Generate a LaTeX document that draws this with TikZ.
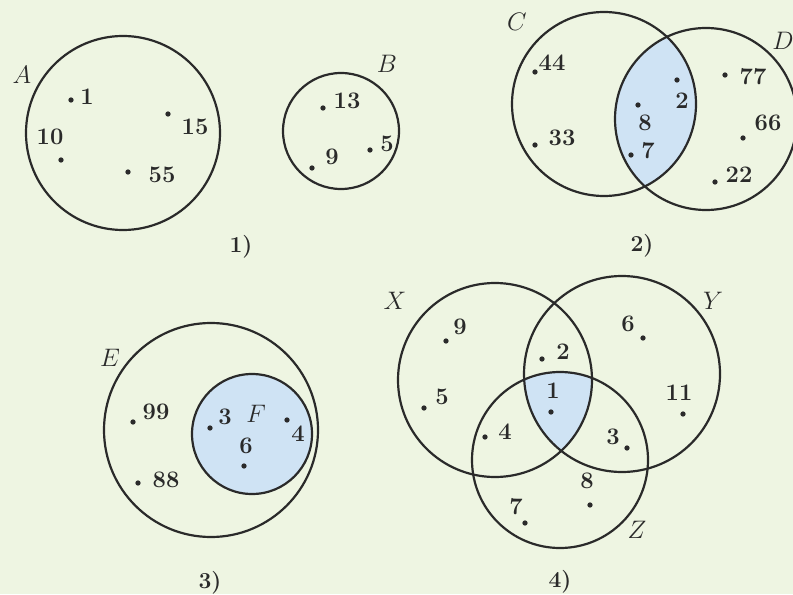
\documentclass[tikz,border=0pt]{standalone}
\usepackage{xcolor}

\definecolor{paper}{HTML}{EEF5E2}
\definecolor{lens}{HTML}{CFE3F4}
\definecolor{ink}{HTML}{2A2A2A}

\tikzset{
    setline/.style={draw=ink, line width=1.25pt},
    elem/.style={font=\fontsize{13.5}{15}\selectfont\bfseries, text=ink, inner sep=0pt},
    setname/.style={font=\fontsize{15}{17}\selectfont, text=ink, inner sep=0pt},
    caption/.style={font=\fontsize{13}{15}\selectfont\bfseries, text=ink, inner sep=0pt},
    pt/.style={circle, fill=ink, inner sep=0pt, minimum size=3pt},
}

\begin{document}
\begin{tikzpicture}[x=0.02cm, y=-0.02cm]
    % page (pixel coordinates, y downwards)
    \useasboundingbox (0,0) rectangle (793,594);
    \fill[paper] (0,0) rectangle (793,594);

    % 1) A and B
    \draw[setline] (123,133) circle (97);
    \draw[setline] (341,131) circle (58);
    \node[setname] (nA) at (22,75) {$A$};
    \node[setname] (nB) at (387,64) {$B$};
    \foreach \dx/\dy/\lx/\ly/\t in {71/100/87/97/1, 61/160/50/137/10, 168/114/195/127/15,
        128/172/162/175/55, 323/108/347/101/13, 312/168/332/157/9, 370/150/387/144/5}
        \node[pt] (p1-\t) at (\dx,\dy) {} node[elem] (l1-\t) at (\lx,\ly) {\t};
    \node[caption] (c1) at (241,247) {1)};

    % 2) C and D, common part shaded
    \begin{scope}
        \clip (604,104) circle (92);
        \fill[lens] (706,119) circle (91);
    \end{scope}
    \draw[setline] (604,104) circle (92);
    \draw[setline] (706,119) circle (91);
    \node[setname] (nC) at (517,22) {$C$};
    \node[setname] (nD) at (783,41) {$D$};
    \foreach \dx/\dy/\lx/\ly/\t in {535/72/552/63/44, 535/145/562/138/33, 638/105/645/123/8,
        677/80/682/101/2, 631/155/648/151/7, 725/75/753/77/77, 743/138/768/123/66, 715/182/739/175/22}
        \node[pt] (p2-\t) at (\dx,\dy) {} node[elem] (l2-\t) at (\lx,\ly) {\t};
    \node[caption] (c2) at (642,246) {2)};

    % 3) F inside E
    \fill[lens] (252,434) circle (60);
    \draw[setline] (211,430) circle (107);
    \draw[setline] (252,434) circle (60);
    \node[setname] (nE) at (110,358) {$E$};
    \node[setname] (nF) at (256,414) {$F$};
    \foreach \dx/\dy/\lx/\ly/\t in {133/422/156/412/99, 138/483/166/480/88, 210/428/225/417/3,
        244/466/246/446/6, 287/420/298/434/4}
        \node[pt] (p3-\t) at (\dx,\dy) {} node[elem] (l3-\t) at (\lx,\ly) {\t};
    \node[caption] (c3) at (210,583) {3)};

    % 4) X, Y, Z -- triple intersection shaded
    \begin{scope}
        \clip (495,380) circle (97);
        \clip (622,374) circle (98);
        \fill[lens] (560,460) circle (88);
    \end{scope}
    \draw[setline] (495,380) circle (97);
    \draw[setline] (622,374) circle (98);
    \draw[setline] (560,460) circle (88);
    \node[setname] (nX) at (395,301) {$X$};
    \node[setname] (nY) at (713,301) {$Y$};
    \node[setname] (nZ) at (637,530) {$Z$};
    \foreach \dx/\dy/\lx/\ly/\t in {446/341/460/327/9, 424/408/442/397/5, 542/359/563/352/2,
        643/338/628/324/6, 551/412/553/391/1, 683/414/679/393/11, 485/437/505/432/4,
        627/448/613/437/3, 590/505/587/481/8, 525/523/516/507/7}
        \node[pt] (p4-\t) at (\dx,\dy) {} node[elem] (l4-\t) at (\lx,\ly) {\t};
    \node[caption] (c4) at (560,582) {4)};
\end{tikzpicture}
\end{document}
